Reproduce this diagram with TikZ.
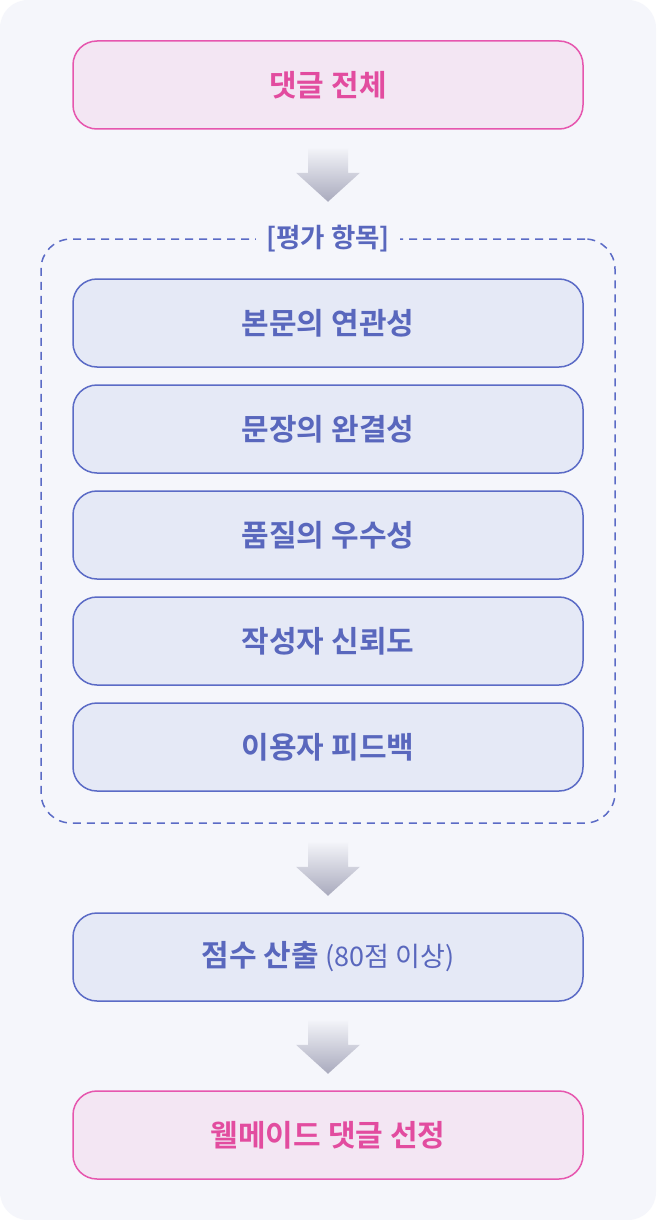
\documentclass[tikz,border=0pt]{standalone}
\usepackage{fontspec}
\setmainfont{Noto Sans CJK KR}[BoldFont={Noto Sans CJK KR Bold}]
\usetikzlibrary{calc}
\definecolor{bgc}{HTML}{F5F6FB}
\definecolor{pinkfill}{HTML}{F3E6F3}
\definecolor{pinkline}{HTML}{E656AE}
\definecolor{pinktext}{HTML}{E24C9F}
\definecolor{bluefill}{HTML}{E5E9F6}
\definecolor{blueline}{HTML}{5B6BC6}
\definecolor{bluetext}{HTML}{5967BD}
\definecolor{arrtop}{HTML}{F2F3F8}
\definecolor{arrbot}{HTML}{A9AABD}
\tikzset{
  pinkbox/.style={draw=pinkline, fill=pinkfill, line width=1.5pt, rounded corners=24pt,
    minimum width=510pt, minimum height=88pt, text=pinktext, font=\fontsize{30}{34}\selectfont\bfseries, inner sep=0pt},
  bluebox/.style={draw=blueline, fill=bluefill, line width=1.5pt, rounded corners=24pt,
    minimum width=510pt, minimum height=88pt, text=bluetext, font=\fontsize{30}{34}\selectfont\bfseries, inner sep=0pt},
  dashbox/.style={draw=blueline, dash pattern=on 8pt off 6pt, line width=1.5pt, rounded corners=30pt,
    minimum width=574pt, minimum height=584pt, inner sep=0pt},
  grouplabel/.style={fill=bgc, text=bluetext, font=\fontsize{26.5}{30}\selectfont\bfseries, inner xsep=10pt, inner ysep=2pt},
  blockarrow/.pic={\shade[top color=arrtop, bottom color=arrbot]
    (-20,0) -- (20,0) -- (20,24) -- (32,24) -- (0,53) -- (-32,24) -- (-20,24) -- cycle;}
}
\begin{document}
\begin{tikzpicture}[x=1pt,y=-1pt]
\useasboundingbox (0,0) rectangle (656,1220);
\fill[white] (0,0) rectangle (656,1220);
\fill[bgc, rounded corners=28pt] (0,0) rectangle (656,1220);

\node[pinkbox] (all) at (328,85) {댓글 전체};
\node[dashbox] (frame) at (328,531) {};
\node[grouplabel] (glabel) at (frame.north) {[평가 항목]};
\node[bluebox] (c1) at (328,323) {본문의 연관성};
\node[bluebox] (c2) at (328,429) {문장의 완결성};
\node[bluebox] (c3) at (328,535) {품질의 우수성};
\node[bluebox] (c4) at (328,641) {작성자 신뢰도};
\node[bluebox] (c5) at (328,747) {이용자 피드백};
\node[bluebox] (score) at (328,957) {점수 산출 {\mdseries\fontsize{27}{30}\selectfont (80점 이상)}};
\node[pinkbox] (final) at (328,1135) {웰메이드 댓글 선정};

\pic at ($(all.south)+(0,19)$) {blockarrow};
\pic at ($(frame.south)+(0,19)$) {blockarrow};
\pic at ($(score.south)+(0,19)$) {blockarrow};
\end{tikzpicture}
\end{document}
